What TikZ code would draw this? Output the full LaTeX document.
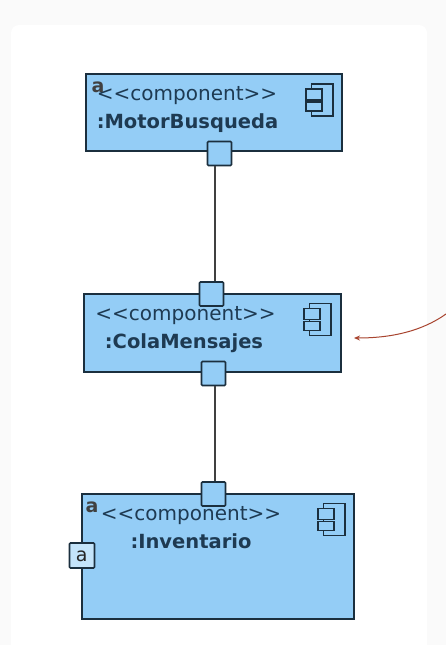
\documentclass[tikz,border=0pt]{standalone}
\usepackage{fontspec}
\usetikzlibrary{arrows.meta}
\setmainfont{DejaVu Sans}
\definecolor{compfill}{HTML}{94CDF6}
\definecolor{compline}{HTML}{1B2F3E}
\definecolor{comptext}{HTML}{1E3A52}
\definecolor{notered}{HTML}{A8442F}
\definecolor{pagegray}{HTML}{FAFAFA}
\begin{document}
\begin{tikzpicture}[
    x=1pt, y=-1pt,
    comp/.style={rectangle, draw=compline, line width=1.7pt, fill=compfill, minimum width=#1, inner sep=0pt},
    port/.style={rectangle, draw=compline, line width=1.7pt, fill=compfill, minimum size=24pt, inner sep=0pt, rounded corners=1pt},
    stereo/.style={text=comptext, font=\fontsize{20}{22}\selectfont, inner sep=0pt, anchor=base},
    compname/.style={text=comptext, font=\fontsize{19.5}{22}\selectfont\bfseries, inner sep=0pt, anchor=base},
    marca/.style={text=black!75, font=\fontsize{19}{20}\selectfont\bfseries, inner sep=0pt, anchor=base},
    conn/.style={draw=black!75, line width=1.7pt},
    icon/.pic={
        \draw[draw=compline, line width=1.3pt, fill=compfill] (-5.5,-16) rectangle (16,16);
        \draw[draw=compline, line width=1.3pt, fill=compfill] (-11,-11) rectangle (5,0);
        \draw[draw=compline, line width=1.3pt, fill=compfill] (-11,2) rectangle (5,11);
    }
]
    % Fondo
    \useasboundingbox (0,0) rectangle (446,645);
    \fill[pagegray] (0,0) rectangle (446,645);
    \fill[white, rounded corners=8pt] (11,25) rectangle (427,660);

    % Componentes
    \node[comp=256pt, minimum height=77pt] (motor) at (214,112.5) {};
    \node[comp=257pt, minimum height=78pt] (cola) at (212.5,333) {};
    \node[comp=272pt, minimum height=125pt] (inventario) at (218,556.5) {};

    % Puertos
    \node[port] (motorOut) at (219.5,153.5) {};
    \node[port] (colaIn) at (211.5,294) {};
    \node[port] (colaOut) at (213.5,373.5) {};
    \node[port] (inventarioIn) at (213.5,494) {};
    \node[port, minimum size=25pt, fill=compfill!55] (inventarioLeft) at (82,555.5) {};

    % Iconos
    \pic at (317,100) {icon};
    \pic at (315,319.5) {icon};
    \pic at (329,519.5) {icon};

    % Textos
    \node[stereo] (motorStereo) at (187,100.7) {<{}<component>{}>};
    \node[compname] (motorTitle) at (187.5,128) {:MotorBusqueda};
    \node[marca] (motorMark) at (98,92.7) {a};
    \node[stereo] (colaStereo) at (185.5,320.7) {<{}<component>{}>};
    \node[compname] (colaTitle) at (184,348) {:ColaMensajes};
    \node[stereo] (inventarioStereo) at (191,520.7) {<{}<component>{}>};
    \node[compname] (inventarioTitle) at (191,548) {:Inventario};
    \node[marca] (inventarioMark) at (92,512) {a};
    \node[marca, font=\fontsize{19}{20}\selectfont, text=black!85] (inventarioLeftMark) at (81.7,561.5) {a};

    % Conectores
    \draw[conn] ([xshift=-4.5pt]motorOut.south) -- ([xshift=3.5pt]colaIn.north);
    \draw[conn] ([xshift=1.5pt]colaOut.south) -- ([xshift=1.5pt]inventarioIn.north);

    % Flecha
    \coordinate (noteEnd) at (446,314);
    \coordinate (colaNote) at (354,338);
    \draw[notered, line width=1pt, -{Stealth[length=6pt,width=5pt]}] (noteEnd) .. controls (422,331) and (392,338) .. (colaNote);
\end{tikzpicture}
\end{document}
